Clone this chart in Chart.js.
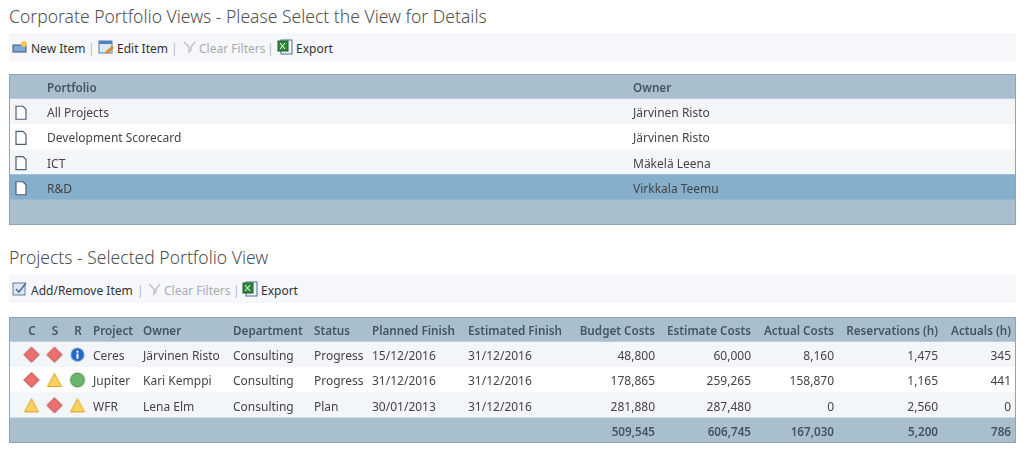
<!DOCTYPE html>
<html>
<head>
<meta charset="utf-8">
<script src="https://cdn.jsdelivr.net/npm/chart.js@4"></script>
<style>
html,body{margin:0;padding:0;background:#fff;overflow:hidden}
body{width:1024px;height:449px;position:relative;font-family:"Noto Sans",sans-serif;color:#444}
h1{position:absolute;left:9px;margin:0;font-weight:300;font-size:17.55px;color:#505050;white-space:nowrap}
.bar{position:absolute;left:9px;width:1007px;height:28px;background:#f5f7fa;font-size:12px;line-height:31px;color:#333}
.bar span{position:absolute;top:0;white-space:nowrap}
.bar .off{color:#a8adb2}
.bar .sep{color:#b4bcc6}
.bar svg{position:absolute;top:6px}
canvas{position:absolute}
.tbl{outline:1px solid #8fa5b5;outline-offset:-1px}
</style>
</head>
<body>
<h1 style="top:4px">Corporate Portfolio Views - Please Select the View for Details</h1>
<div class="bar" style="top:33px">
  <svg style="left:3px" width="16" height="16"><rect x="1" y="6" width="13" height="7" fill="#7aa6d8" stroke="#456"/><circle cx="12" cy="5" r="3" fill="#f2c94c"/></svg>
  <span style="left:22px">New Item</span><span class="sep" style="left:79px">|</span>
  <svg style="left:89px" width="16" height="16"><rect x="1" y="2" width="13" height="12" fill="#dfe9f5" stroke="#5a7fa8"/><rect x="1" y="2" width="13" height="3" fill="#4f81bd"/><path d="M7 13l7-6 2 2-7 6z" fill="#e08a1e"/></svg>
  <span style="left:108px">Edit Item</span><span class="sep" style="left:162px">|</span>
  <svg style="left:173px" width="16" height="16"><path d="M2 3l5 5v5l2-2V8l4-5" fill="none" stroke="#c0c4c8" stroke-width="1.5"/></svg>
  <span class="off" style="left:190px">Clear Filters</span><span class="sep" style="left:258px">|</span>
  <svg style="left:268px" width="16" height="16"><rect x="4" y="1" width="11" height="14" fill="#eef3f8" stroke="#4b6f9c"/><rect x="1" y="2" width="10" height="10" fill="#2f8a3c" stroke="#1d5c27"/><path d="M3 4l5 6M8 4l-5 6" stroke="#fff"/></svg>
  <span style="left:287px">Export</span>
</div>
<h1 style="top:245px">Projects - Selected Portfolio View</h1>
<div class="bar" style="top:275px">
  <svg style="left:3px" width="16" height="16"><rect x="1" y="2" width="12" height="12" fill="#dfe6f0" stroke="#66809f"/><path d="M4 8l3 3 7-9" fill="none" stroke="#4f6f95" stroke-width="1.6"/></svg>
  <span style="left:22px">Add/Remove Item</span><span class="sep" style="left:128px">|</span>
  <svg style="left:138px" width="16" height="16"><path d="M2 3l5 5v5l2-2V8l4-5" fill="none" stroke="#c0c4c8" stroke-width="1.5"/></svg>
  <span class="off" style="left:155px">Clear Filters</span><span class="sep" style="left:224px">|</span>
  <svg style="left:233px" width="16" height="16"><rect x="4" y="1" width="11" height="14" fill="#eef3f8" stroke="#4b6f9c"/><rect x="1" y="2" width="10" height="10" fill="#2f8a3c" stroke="#1d5c27"/><path d="M3 4l5 6M8 4l-5 6" stroke="#fff"/></svg>
  <span style="left:252px">Export</span>
</div>

<canvas id="portfolioTable" class="tbl" style="left:9px;top:74px" width="1007" height="151"></canvas>
<canvas id="projectTable" class="tbl" style="left:9px;top:317px" width="1007" height="126"></canvas>
<canvas id="statusIcons" style="left:20px;top:342px" width="69" height="76"></canvas>

<script>
// top table
const portfolioHeaders = ["Portfolio", "Owner"];
const portfolios = ["All Projects", "Development Scorecard", "ICT", "R&D"];
const portfolioOwners = ["Järvinen Risto", "Järvinen Risto", "Mäkelä Leena", "Virkkala Teemu"];

// bottom table
const statusColumns = ["C", "S", "R"];
const projects = ["Ceres", "Jupiter", "WFR"];
const costStatus = ["red", "red", "yellow"];
const scheduleStatus = ["red", "yellow", "red"];
const riskStatus = ["info", "green", "yellow"];
const owners = ["Järvinen Risto", "Kari Kemppi", "Lena Elm"];
const departments = ["Consulting", "Consulting", "Consulting"];
const statuses = ["Progress", "Progress", "Plan"];
const plannedFinish = ["15/12/2016", "31/12/2016", "30/01/2013"];
const estimatedFinish = ["31/12/2016", "31/12/2016", "31/12/2016"];
const budgetCosts = ["48,800", "178,865", "281,880"];
const estimateCosts = ["60,000", "259,265", "287,480"];
const actualCosts = ["8,160", "158,870", "0"];
const reservations = ["1,475", "1,165", "2,560"];
const actuals = ["345", "441", "0"];
const totals = ["509,545", "606,745", "167,030", "5,200", "786"];

const HEAD = "#a9bfcd", ALT = "#f3f6f9", WHITE = "#ffffff", SELECTED = "#86afcc";
const FONT = '"Noto Sans", sans-serif';
const TEXT_DROP = 2;

// [header, cells, left x or right x inside the canvas, align]
const portfolioCols = [
    [portfolioHeaders[0], portfolios, 38, "left"],
    [portfolioHeaders[1], portfolioOwners, 624, "left"]
];
const projectCols = [
    ["C", [], 23, "center"],
    ["S", [], 46, "center"],
    ["R", [], 69, "center"],
    ["Project", projects, 84, "left"],
    ["Owner", owners, 134, "left"],
    ["Department", departments, 224, "left"],
    ["Status", statuses, 305, "left"],
    ["Planned Finish", plannedFinish, 363, "left"],
    ["Estimated Finish", estimatedFinish, 459, "left"],
    ["Budget Costs", budgetCosts, 646, "right", totals[0]],
    ["Estimate Costs", estimateCosts, 742, "right", totals[1]],
    ["Actual Costs", actualCosts, 825, "right", totals[2]],
    ["Reservations (h)", reservations, 929, "right", totals[3]],
    ["Actuals (h)", actuals, 1002, "right", totals[4]]
];

// doc icon in front of the portfolio rows
function docIcon(ctx, x, y) {
    ctx.fillStyle = "#fff";
    ctx.strokeStyle = "#4a5f78";
    ctx.lineWidth = 1.2;
    ctx.beginPath();
    ctx.moveTo(x - 5, y - 6.5);
    ctx.lineTo(x + 2, y - 6.5);
    ctx.lineTo(x + 5, y - 3.5);
    ctx.lineTo(x + 5, y + 6.5);
    ctx.lineTo(x - 5, y + 6.5);
    ctx.closePath();
    ctx.fill();
    ctx.stroke();
}

const cellText = {
    id: "cellText",
    afterDatasetsDraw(chart, args, opts) {
        const ctx = chart.ctx;
        const yScale = chart.scales.y;
        ctx.save();
        ctx.textBaseline = "middle";
        opts.columns.forEach(col => {
            ctx.textAlign = col[3];
            ctx.font = "600 11.7px " + FONT;
            ctx.fillStyle = "#46545f";
            ctx.fillText(col[0], col[2], yScale.getPixelForValue(0) + TEXT_DROP);
            ctx.font = "12px " + FONT;
            ctx.fillStyle = "#444";
            col[1].forEach((txt, i) => {
                ctx.fillText(txt, col[2], yScale.getPixelForValue(i + 1) + TEXT_DROP);
            });
            if (col[4]) {
                ctx.font = "600 11.7px " + FONT;
                ctx.fillStyle = "#46545f";
                ctx.fillText(col[4], col[2], yScale.getPixelForValue(col[1].length + 1) + TEXT_DROP);
            }
        });
        if (opts.docIcons) {
            for (let i = 0; i < opts.docIcons; i++) {
                docIcon(ctx, 12, yScale.getPixelForValue(i + 1) + 1);
            }
        }
        ctx.restore();
    }
};

// a table is a horizontal bar per row, the text goes in through the plugin
function tableChart(id, rows, colors, columns, docIcons) {
    return new Chart(document.getElementById(id), {
        type: "bar",
        data: {
            labels: rows,
            datasets: [{
                data: rows.map(() => 1),
                backgroundColor: colors,
                barPercentage: 1,
                categoryPercentage: 1
            }]
        },
        options: {
            indexAxis: "y",
            responsive: false,
            animation: false,
            events: [],
            layout: {padding: 0},
            plugins: {
                legend: {display: false},
                tooltip: {enabled: false},
                cellText: {columns: columns, docIcons: docIcons}
            },
            scales: {
                x: {display: false, min: 0, max: 1},
                y: {display: false}
            }
        },
        plugins: [cellText]
    });
}

tableChart("portfolioTable",
    ["head"].concat(portfolios, ["foot"]),
    [HEAD, ALT, WHITE, ALT, SELECTED, HEAD],
    portfolioCols, portfolios.length);

tableChart("projectTable",
    ["head"].concat(projects, ["total"]),
    [HEAD, ALT, WHITE, ALT, HEAD],
    projectCols, 0);

// status markers
function icon(kind) {
    const c = document.createElement("canvas");
    c.width = 18;
    c.height = 18;
    const g = c.getContext("2d");
    g.lineWidth = 1;
    g.lineJoin = "round";
    if (kind === "red") {
        g.fillStyle = "#ee6f6f";
        g.strokeStyle = "#a83a3a";
        g.beginPath();
        g.moveTo(9, 1.5); g.lineTo(16.5, 9); g.lineTo(9, 16.5); g.lineTo(1.5, 9);
        g.closePath(); g.fill(); g.stroke();
    } else if (kind === "yellow") {
        g.fillStyle = "#fbd25e";
        g.strokeStyle = "#dd9f24";
        g.beginPath();
        g.moveTo(9, 2.5); g.lineTo(16, 15.5); g.lineTo(2, 15.5);
        g.closePath(); g.fill(); g.stroke();
    } else if (kind === "green") {
        g.fillStyle = "#68b56c";
        g.strokeStyle = "#4a8a50";
        g.beginPath();
        g.arc(9, 9, 7, 0, Math.PI * 2);
        g.fill(); g.stroke();
    } else {
        g.fillStyle = "#2468c4";
        g.beginPath();
        g.arc(9, 9, 6.7, 0, Math.PI * 2);
        g.fill();
        g.fillStyle = "#fff";
        g.fillRect(8, 8, 2, 5);
        g.fillRect(8, 5, 2, 2);
    }
    return c;
}

const statusSeries = [costStatus, scheduleStatus, riskStatus];

new Chart(document.getElementById("statusIcons"), {
    type: "scatter",
    data: {
        datasets: statusSeries.map((series, s) => ({
            data: series.map((v, i) => ({x: statusColumns[s], y: projects[i]})),
            pointStyle: series.map(icon),
            pointRadius: 9,
            clip: false
        }))
    },
    options: {
        responsive: false,
        animation: false,
        events: [],
        layout: {padding: 0, autoPadding: false},
        plugins: {legend: {display: false}, tooltip: {enabled: false}},
        scales: {
            x: {type: "category", labels: statusColumns, offset: true, display: false},
            y: {type: "category", labels: projects, offset: true, display: false}
        }
    }
});
</script>
</body>
</html>
